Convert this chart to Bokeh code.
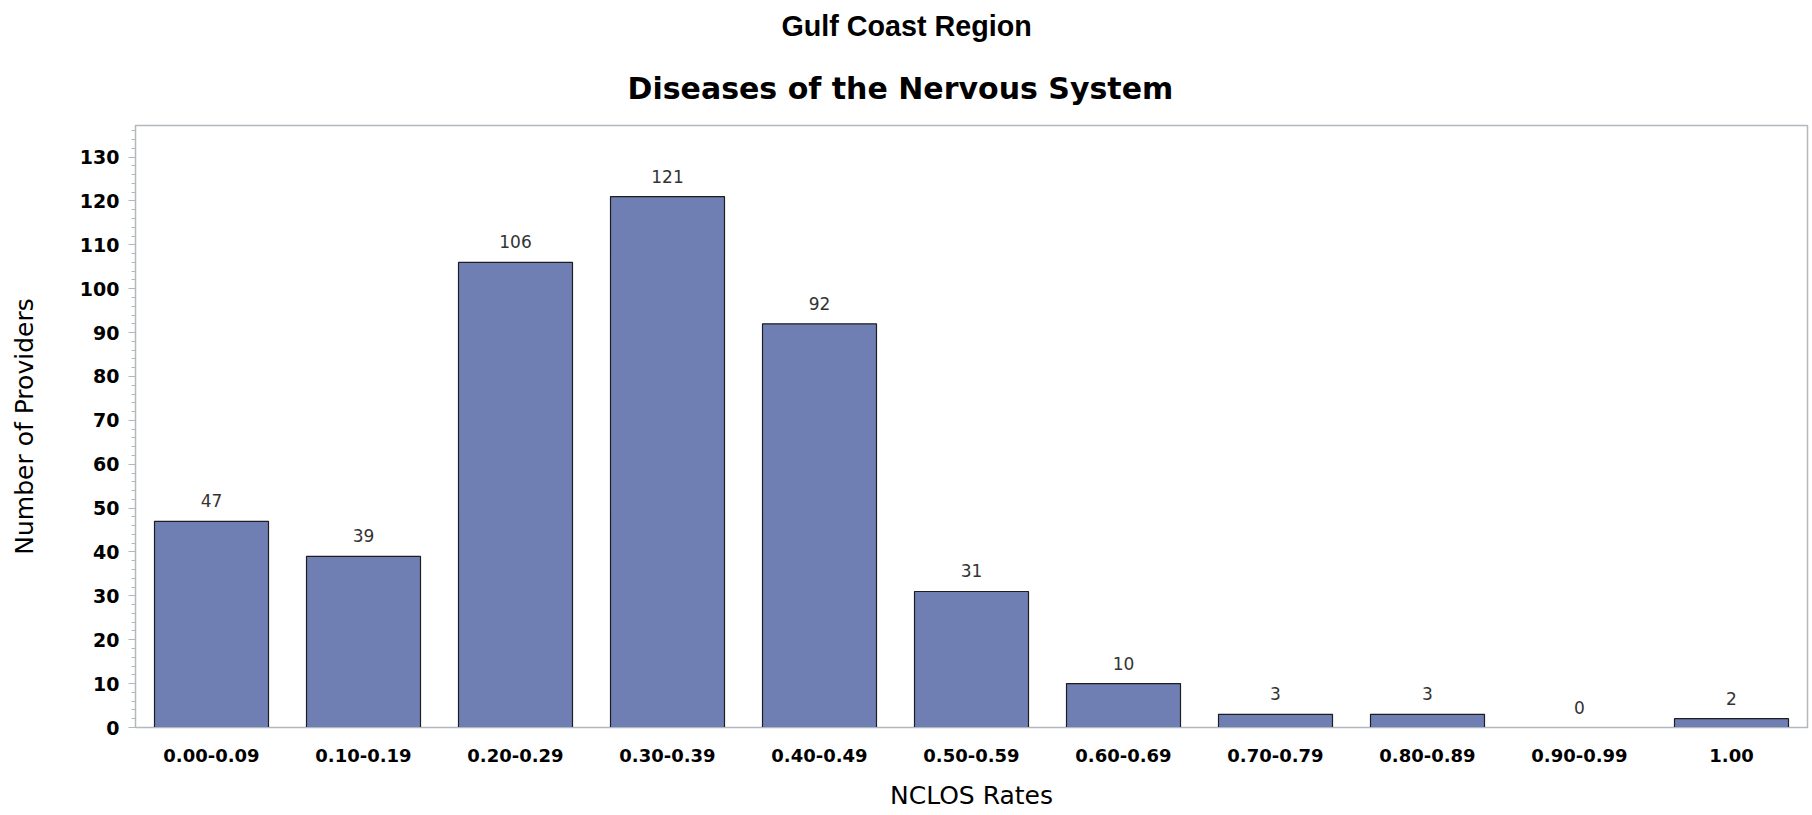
from bokeh.plotting import figure
from bokeh.models import Range1d, FactorRange, SingleIntervalTicker, Title, ColumnDataSource, LabelSet
from bokeh.embed import file_html
from bokeh.resources import INLINE
from bokeh.core.properties import value

categories = ["0.00-0.09", "0.10-0.19", "0.20-0.29", "0.30-0.39", "0.40-0.49",
              "0.50-0.59", "0.60-0.69", "0.70-0.79", "0.80-0.89", "0.90-0.99", "1.00"]
counts = [47, 39, 106, 121, 92, 31, 10, 3, 3, 0, 2]

title_top = "Gulf Coast Region"
title_main = "Diseases of the Nervous System"
x_label = "NCLOS Rates"
y_label = "Number of Providers"

src = ColumnDataSource(dict(cat=categories, n=counts, lbl=[str(c) for c in counts]))

GRAY = "#b3b8bc"

p = figure(width=1810, height=812,
           x_range=FactorRange(*categories, range_padding=0),
           y_range=Range1d(0, 137.2),
           output_backend="svg", toolbar_location=None,
           min_border_left=135, min_border_right=3,
           min_border_top=125, min_border_bottom=81)

p.vbar(x="cat", top="n", width=0.75, source=src,
       fill_color="#6f7eb3", line_color="#1e1e1e", line_width=1.2)

p.add_layout(LabelSet(x="cat", y="n", text="lbl", source=src,
                      text_align="center", text_baseline="bottom", y_offset=14,
                      text_font=value("DejaVu Sans"), text_font_size="17px",
                      text_color="#333333"))

p.xgrid.visible = False
p.ygrid.visible = False
p.outline_line_color = GRAY
p.outline_line_width = 1.5
p.background_fill_color = "white"
p.border_fill_color = "white"

# y axis
ya = p.yaxis[0]
ya.ticker = SingleIntervalTicker(interval=10, num_minor_ticks=5)
ya.axis_line_color = GRAY
ya.major_tick_line_color = GRAY
ya.minor_tick_line_color = GRAY
ya.major_tick_out = 7
ya.major_tick_in = 0
ya.minor_tick_out = 4
ya.minor_tick_in = 0
ya.major_label_standoff = 9
ya.major_label_text_font = "DejaVu Sans"
ya.major_label_text_font_style = "bold"
ya.major_label_text_font_size = "19px"
ya.major_label_text_color = "black"
ya.axis_label = y_label
ya.axis_label_text_font = "DejaVu Sans"
ya.axis_label_text_font_style = "normal"
ya.axis_label_text_font_size = "25px"
ya.axis_label_text_color = "black"
ya.axis_label_standoff = 38

# x axis
xa = p.xaxis[0]
xa.axis_line_color = GRAY
xa.major_tick_line_color = None
xa.minor_tick_line_color = None
xa.major_tick_out = 0
xa.major_tick_in = 0
xa.major_label_standoff = 21
xa.major_label_text_font = "DejaVu Sans"
xa.major_label_text_font_style = "bold"
xa.major_label_text_font_size = "18px"
xa.major_label_text_color = "black"
xa.axis_label = x_label
xa.axis_label_text_font = "DejaVu Sans"
xa.axis_label_text_font_style = "normal"
xa.axis_label_text_font_size = "25px"
xa.axis_label_text_color = "black"
xa.axis_label_standoff = 16

# titles
t_main = Title(text=title_main, align="left", offset=492,
               text_font="DejaVu Sans", text_font_style="bold",
               text_font_size="30px", text_color="black", standoff=40)
t_top = Title(text=title_top, align="left", offset=646,
              text_font="Liberation Sans", text_font_style="bold",
              text_font_size="28.7px", text_color="black", standoff=14)
p.add_layout(t_main, "above")
p.add_layout(t_top, "above")

open("out.html", "w").write(file_html(p, INLINE))
